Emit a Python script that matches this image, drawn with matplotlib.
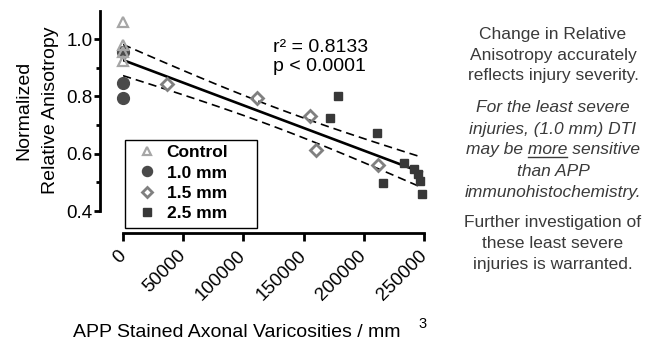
import numpy as np
import matplotlib

matplotlib.use('Agg')
import matplotlib.pyplot as plt
from matplotlib.lines import Line2D
from matplotlib.patches import Rectangle

plt.rcParams['font.family'] = ['Liberation Sans', 'DejaVu Sans']

# values
control_x = [0, 0, 0, 0]
control_y = [1.061, 0.980, 0.955, 0.925]
mm10_x = [0, 0, 0]
mm10_y = [0.955, 0.846, 0.795]
mm15_x = [36400, 111400, 155300, 160000, 212000]
mm15_y = [0.842, 0.794, 0.731, 0.614, 0.561]
mm25_x = [171900, 178900, 210800, 215600, 233100, 241400, 244700, 246900, 248100]
mm25_y = [0.724, 0.800, 0.673, 0.499, 0.569, 0.546, 0.529, 0.505, 0.461]

# regression line as drawn in the reference
fit_intercept = 0.927
fit_slope = -1.58e-6

x_ticks = [0, 50000, 100000, 150000, 200000, 250000]
y_ticks = [0.4, 0.6, 0.8, 1.0]
legend_labels = ['Control', '1.0 mm', '1.5 mm', '2.5 mm']
stats_text = 'r\u00b2 = 0.8133\np < 0.0001'

W, H = 663, 345


def fx(px):
    return px / W


def fy(py):
    return 1 - py / H


fig = plt.figure(figsize=(W / 100, H / 100), dpi=100)
ax = fig.add_axes([fx(123), fy(211), fx(301), 200.5 / H])

# spine offsets first (set_position resets the ticks)
for side in ['top', 'right']:
    ax.spines[side].set_visible(False)
ax.spines['left'].set_position(('outward', 16.5))
ax.spines['bottom'].set_position(('outward', 15.8))
ax.spines['left'].set_linewidth(2)
ax.spines['bottom'].set_linewidth(2)

# fit line with 95% confidence band
all_x = np.array(control_x + mm10_x + mm15_x + mm25_x, dtype=float)
all_y = np.array(control_y + mm10_y + mm15_y + mm25_y)
n = len(all_x)
resid = all_y - (fit_slope * all_x + fit_intercept)
s = np.sqrt(np.sum(resid ** 2) / (n - 2))
t_crit = 2.093  # t(0.975, df=19)
xs = np.linspace(0, all_x.max(), 100)
fit = fit_slope * xs + fit_intercept
half = t_crit * s * np.sqrt(1 / n + (xs - all_x.mean()) ** 2 / np.sum((all_x - all_x.mean()) ** 2))

ax.plot(xs, fit, color='black', linewidth=1.9, zorder=2)
ax.plot(xs, fit + half, color='black', linewidth=1.2, dashes=(5, 3), zorder=2)
ax.plot(xs, fit - half, color='black', linewidth=1.2, dashes=(5, 3), zorder=2)

h10, = ax.plot(mm10_x, mm10_y, 'o', color='#4a4a4a', markersize=8.5, clip_on=False, zorder=3)
hctl, = ax.plot(control_x, control_y, '^', markerfacecolor='none', markeredgecolor='#a6a6a6',
                markeredgewidth=1.6, markersize=7, clip_on=False, zorder=4)
h15, = ax.plot(mm15_x, mm15_y, 'D', markerfacecolor='none', markeredgecolor='#808080',
               markeredgewidth=2, markersize=6.5, clip_on=False, zorder=3)
h25, = ax.plot(mm25_x, mm25_y, 's', color='#383838', markersize=6.2, clip_on=False, zorder=3)

ax.set_xlim(0, 250000)
ax.set_ylim(0.4, 1.1)
ax.set_xticks(x_ticks)
ax.set_xticklabels([str(v) for v in x_ticks], rotation=45, ha='right', va='center',
                   rotation_mode='anchor', fontsize=13.5)
ax.set_yticks(y_ticks)
ax.set_yticklabels(['%.1f' % v for v in y_ticks], fontsize=13.5)
ax.set_yticks([0.5, 0.7, 0.9], minor=True)

ax.tick_params(axis='y', which='major', length=4.5, width=2, pad=1, colors='black')
ax.tick_params(axis='y', which='minor', length=3, width=2)
ax.tick_params(axis='x', which='major', length=5.5, width=2, pad=9)

ax.set_ylabel('Normalized\nRelative Anisotropy', fontsize=14, linespacing=1.75, labelpad=5)
fig.text(fx(73), fy(337), 'APP Stained Axonal Varicosities / mm', fontsize=14,
         ha='left', va='baseline')
fig.text(fx(418), fy(328), '3', fontsize=10.5, ha='left', va='baseline')

ax.text(fx(273), fy(57), stats_text, transform=fig.transFigure, fontsize=14,
        ha='left', va='center', linespacing=1.15)

# legend
leg = ax.legend([hctl, h10, h15, h25], legend_labels, loc='upper left',
                bbox_to_anchor=(fx(138), fy(145)), bbox_transform=fig.transFigure,
                frameon=False, prop={'weight': 'bold', 'size': 12.5},
                handlelength=1.0, handletextpad=0.65, labelspacing=0.3,
                borderpad=0, borderaxespad=0, markerscale=0.85)
fig.patches.append(Rectangle((fx(125), fy(228)), fx(132), 88 / H, transform=fig.transFigure,
                             fill=False, edgecolor='black', linewidth=1))

# notes on the right
txt_col = '#3a3a3a'
cx = fx(553)
plain1 = ['Change in Relative', 'Anisotropy accurately', 'reflects injury severity.']
ital = ['For the least severe', 'injuries, (1.0 mm) DTI', 'may be more sensitive',
        'than APP', 'immunohistochemistry.']
plain2 = ['Further investigation of', 'these least severe', 'injuries is warranted.']
for i, line in enumerate(plain1):
    fig.text(cx, fy(35 + i * 20.3), line, fontsize=12.5, ha='center', va='center', color=txt_col)
ital_texts = []
for i, line in enumerate(ital):
    t = fig.text(cx, fy(108 + i * 21), line, fontsize=12.5, ha='center', va='center',
                 style='italic', color=txt_col)
    ital_texts.append(t)
for i, line in enumerate(plain2):
    fig.text(cx, fy(222 + i * 21.5), line, fontsize=12.5, ha='center', va='center', color=txt_col)

# underline "more"
fig.canvas.draw()
renderer = fig.canvas.get_renderer()
t = ital_texts[2]
prop = t.get_fontproperties()
bb = t.get_window_extent(renderer)
w_pre, _, _ = renderer.get_text_width_height_descent('may be more', prop, ismath=False)
w_more, _, _ = renderer.get_text_width_height_descent('more', prop, ismath=False)
_, _, d = renderer.get_text_width_height_descent(t.get_text(), prop, ismath=False)
x1 = bb.x0 + w_pre
x0 = x1 - w_more
y_ul = bb.y0 + d - 2
fig.lines.append(Line2D([x0 / W, x1 / W], [y_ul / H, y_ul / H], transform=fig.transFigure,
                        color=txt_col, linewidth=1))

fig.savefig('out.png', dpi=100)
